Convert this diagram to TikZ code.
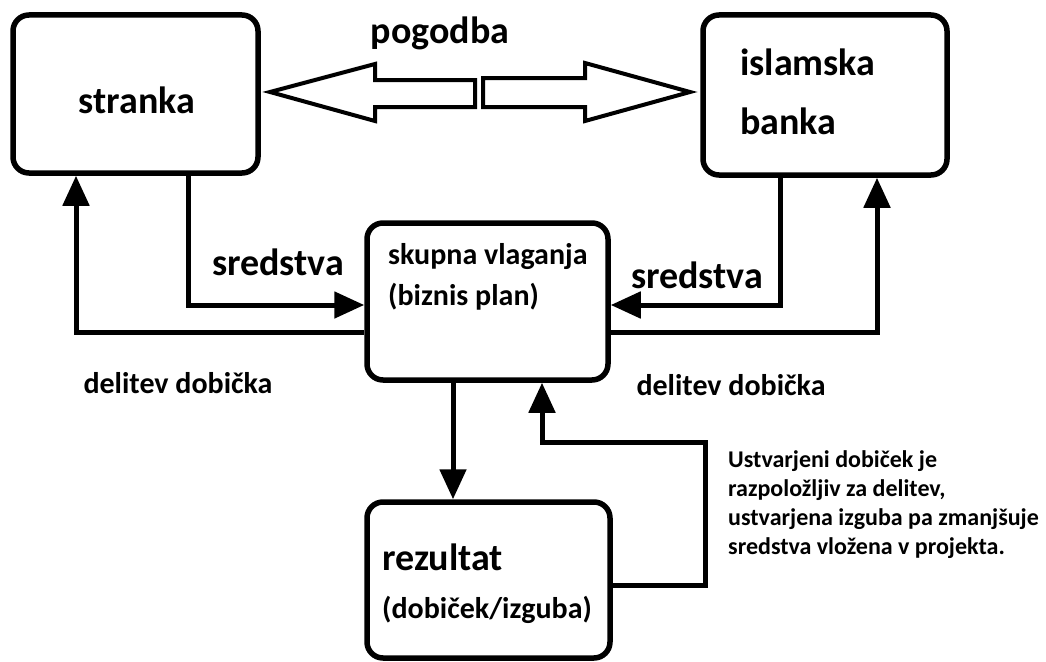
\documentclass[tikz,border=0pt]{standalone}
\usepackage{fontspec}
\setmainfont{Carlito}
\usepackage{tikz}
\usetikzlibrary{arrows.meta,positioning,calc}
\tikzset{
  box/.style={draw,line width=5.5pt,rounded corners=16pt,inner sep=0pt},
  big/.style={font=\bfseries\fontsize{38}{46}\selectfont,inner sep=0pt},
  mid/.style={font=\bfseries\fontsize{30}{41}\selectfont,inner sep=0pt},
  small/.style={font=\bfseries\fontsize{24}{29}\selectfont,inner sep=0pt},
  conn/.style={line width=5pt,-{Triangle[length=30pt,width=26pt]}},
  hollow/.style={draw,line width=4pt,fill=white},
}

\begin{document}
\begin{tikzpicture}[x=1pt,y=-1pt]
  \useasboundingbox (0,0) rectangle (1046,661);
  % the four boxes
  \node[box,minimum width=245pt,minimum height=158pt] (stranka) at (135.5,94){};
  \node[box,minimum width=244pt,minimum height=160pt] (banka) at (825,95){};
  \node[box,minimum width=241pt,minimum height=157pt] (skupna) at (487.5,301.5){};
  \node[box,minimum width=243pt,minimum height=156pt] (rezultat) at (488.5,580){};
  % texts in the boxes
  \node[big] (strankaT) at (137,100) {stranka};
  \node[big,font=\bfseries\fontsize{38}{59}\selectfont,align=left,anchor=west] (bankaT) at (740,92) {islamska\\banka};
  \node[mid,align=left,anchor=west] (skupnaT) at (388,277) {skupna vlaganja\\(biznis plan)};
  \node[big,anchor=west] (rezT) at (382,557) {rezultat};
  \node[mid,anchor=west] (rezT2) at (382,610) {(dobiček/izguba)};
  % pogodba: two hollow arrows
  \draw[hollow] (475,80) -- (375,80) -- (375,64) -- (270,92) -- (375,121) -- (375,107) -- (475,107) -- cycle;
  \draw[hollow] (483,78) -- (585,78) -- (585,63) -- (690,92) -- (585,121) -- (585,107) -- (483,107) -- cycle;
  \node[big] (pogodba) at (440,33) {pogodba};
  % connectors
  \draw[conn] (stranka.south -| 188,0) |- (skupna.west |- 0,305);
  \draw[conn] (skupna.west |- 0,332) -| (stranka.south -| 76,0);
  \draw[conn] (banka.south -| 780,0) |- (skupna.east |- 0,305);
  \draw[conn] (skupna.east |- 0,332) -| (banka.south -| 877,0);
  \draw[conn] (skupna.south -| 453,0) -- (rezultat.north -| 453,0);
  \draw[conn] (rezultat.east |- 0,585) -| (705,442) -| (skupna.south -| 542,0);
  % labels
  \node[big] (sredL) at (278,262) {sredstva};
  \node[big] (sredR) at (697,275) {sredstva};
  \node[mid] (delL) at (178,383) {delitev dobička};
  \node[mid] (delR) at (731,385) {delitev dobička};
  \node[small,align=left,anchor=west] (opomba) at (728,505) {Ustvarjeni dobiček je\\razpoložljiv za delitev,\\ustvarjena izguba pa zmanjšuje\\sredstva vložena v projekta.};
\end{tikzpicture}
\end{document}
